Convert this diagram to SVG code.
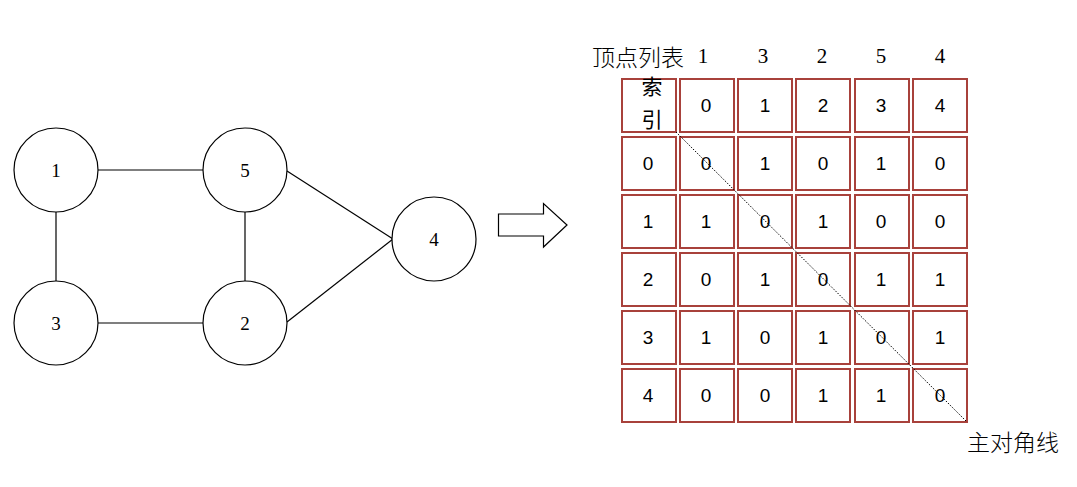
<svg xmlns="http://www.w3.org/2000/svg" width="1077" height="487" viewBox="0 0 1077 487">
<style>
.node circle{fill:#fff;stroke:#000;stroke-width:1.2}
.nl{font-family:"Liberation Serif","Noto Sans CJK SC",serif;font-size:19px;text-anchor:middle;dominant-baseline:central}
.edge{stroke:#000;stroke-width:1.2;fill:none}
.cell rect{fill:#fff;stroke:#a8413b;stroke-width:2}
.ct{font-family:"Liberation Sans","Noto Sans CJK SC",sans-serif;font-size:19px;text-anchor:middle;dominant-baseline:central}
.hd{font-family:"Liberation Serif","Noto Sans CJK SC",serif;font-size:21px;dominant-baseline:central}
.cj{font-family:"Noto Sans CJK SC",sans-serif;font-size:23px;font-weight:300;dominant-baseline:central}
</style>
<rect width="1077" height="487" fill="#fff"/>
<g id="connectors">
<line class="edge" x1="98" y1="170" x2="203" y2="170"/>
<line class="edge" x1="56" y1="212" x2="56" y2="281"/>
<line class="edge" x1="245" y1="212" x2="245" y2="281"/>
<line class="edge" x1="98" y1="323" x2="203" y2="323"/>
<line class="edge" x1="287" y1="171" x2="393" y2="239"/>
<line class="edge" x1="287" y1="322" x2="393" y2="239"/>
</g>
<g id="n1" class="node"><circle cx="56" cy="170" r="42"/><text class="nl" x="56" y="170">1</text></g>
<g id="n5" class="node"><circle cx="245" cy="170" r="42"/><text class="nl" x="245" y="170">5</text></g>
<g id="n3" class="node"><circle cx="56" cy="323" r="42"/><text class="nl" x="56" y="323">3</text></g>
<g id="n2" class="node"><circle cx="245" cy="323" r="42"/><text class="nl" x="245" y="323">2</text></g>
<g id="n4" class="node"><circle cx="434" cy="239" r="42"/><text class="nl" x="434" y="239">4</text></g>
<g id="arrow"><polygon points="498.5,214 543.5,214 543.5,203.5 567,225 543.5,247 543.5,236 498.5,236" fill="#fff" stroke="#000" stroke-width="1.2"/></g>
<g id="header">
<text class="cj" x="592" y="56">顶点列表</text>
<text class="hd" x="703" y="56" text-anchor="middle">1</text>
<text class="hd" x="763" y="56" text-anchor="middle">3</text>
<text class="hd" x="822" y="56" text-anchor="middle">2</text>
<text class="hd" x="881" y="56" text-anchor="middle">5</text>
<text class="hd" x="940" y="56" text-anchor="middle">4</text>
</g>
<g id="matrix" class="cell">
<rect x="622" y="79" width="54" height="53"/><rect x="680" y="79" width="54" height="53"/><rect x="738" y="79" width="54" height="53"/><rect x="796" y="79" width="54" height="53"/><rect x="855" y="79" width="54" height="53"/><rect x="913" y="79" width="54" height="53"/>
<rect x="622" y="137" width="54" height="53"/><rect x="680" y="137" width="54" height="53"/><rect x="738" y="137" width="54" height="53"/><rect x="796" y="137" width="54" height="53"/><rect x="855" y="137" width="54" height="53"/><rect x="913" y="137" width="54" height="53"/>
<rect x="622" y="195" width="54" height="53"/><rect x="680" y="195" width="54" height="53"/><rect x="738" y="195" width="54" height="53"/><rect x="796" y="195" width="54" height="53"/><rect x="855" y="195" width="54" height="53"/><rect x="913" y="195" width="54" height="53"/>
<rect x="622" y="253" width="54" height="53"/><rect x="680" y="253" width="54" height="53"/><rect x="738" y="253" width="54" height="53"/><rect x="796" y="253" width="54" height="53"/><rect x="855" y="253" width="54" height="53"/><rect x="913" y="253" width="54" height="53"/>
<rect x="622" y="311" width="54" height="53"/><rect x="680" y="311" width="54" height="53"/><rect x="738" y="311" width="54" height="53"/><rect x="796" y="311" width="54" height="53"/><rect x="855" y="311" width="54" height="53"/><rect x="913" y="311" width="54" height="53"/>
<rect x="622" y="369" width="54" height="53"/><rect x="680" y="369" width="54" height="53"/><rect x="738" y="369" width="54" height="53"/><rect x="796" y="369" width="54" height="53"/><rect x="855" y="369" width="54" height="53"/><rect x="913" y="369" width="54" height="53"/>
</g>
<g id="diagonal"><line x1="676" y1="132" x2="967" y2="422" stroke="#000" stroke-width="1" stroke-dasharray="1.5,1.5"/></g>
<g id="cells-text">
<text class="ct" x="652" y="86" style="font-size:21px">索</text><text class="ct" x="652" y="119" style="font-size:21px">引</text>
<text class="ct" x="706" y="105">0</text><text class="ct" x="765" y="105">1</text><text class="ct" x="823" y="105">2</text><text class="ct" x="881" y="105">3</text><text class="ct" x="940" y="105">4</text>
<text class="ct" x="648" y="163">0</text><text class="ct" x="706" y="163">0</text><text class="ct" x="765" y="163">1</text><text class="ct" x="823" y="163">0</text><text class="ct" x="881" y="163">1</text><text class="ct" x="940" y="163">0</text>
<text class="ct" x="648" y="221">1</text><text class="ct" x="706" y="221">1</text><text class="ct" x="765" y="221">0</text><text class="ct" x="823" y="221">1</text><text class="ct" x="881" y="221">0</text><text class="ct" x="940" y="221">0</text>
<text class="ct" x="648" y="279">2</text><text class="ct" x="706" y="279">0</text><text class="ct" x="765" y="279">1</text><text class="ct" x="823" y="279">0</text><text class="ct" x="881" y="279">1</text><text class="ct" x="940" y="279">1</text>
<text class="ct" x="648" y="337">3</text><text class="ct" x="706" y="337">1</text><text class="ct" x="765" y="337">0</text><text class="ct" x="823" y="337">1</text><text class="ct" x="881" y="337">0</text><text class="ct" x="940" y="337">1</text>
<text class="ct" x="648" y="395">4</text><text class="ct" x="706" y="395">0</text><text class="ct" x="765" y="395">0</text><text class="ct" x="823" y="395">1</text><text class="ct" x="881" y="395">1</text><text class="ct" x="940" y="395">0</text>
</g>
<text class="cj" x="967" y="441">主对角线</text>
</svg>
